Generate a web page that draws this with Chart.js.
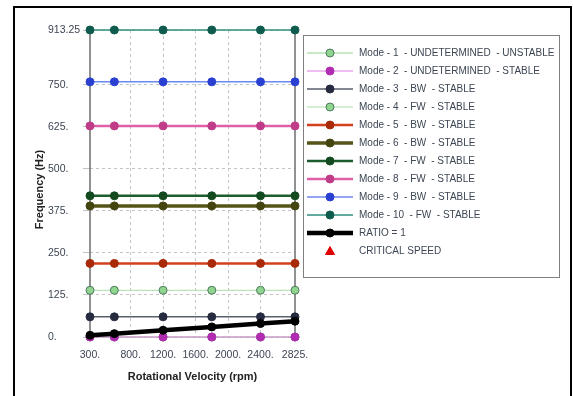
<!DOCTYPE html>
<html>
<head>
<meta charset="utf-8">
<script src="https://cdn.jsdelivr.net/npm/chart.js@4.4.1/dist/chart.umd.min.js"></script>
<style>
  html, body { margin: 0; padding: 0; background: #fff; }
  #wrap { position: relative; width: 573px; height: 396px; }
</style>
</head>
<body>
<div id="wrap"><canvas id="chart" width="573" height="396"></canvas></div>
<script>
// rotational speeds (rpm) where modes were computed
const speeds = [300, 600, 1200, 1800, 2400, 2825];

// frequencies (Hz) per mode
const mode1 = [0, 0, 0, 0, 0, 0];
const mode2 = [0, 0, 0, 0, 0, 0];
const mode3 = [60, 60, 60, 60, 60, 60];
const mode4 = [139, 139, 139, 139, 139, 139];
const mode5 = [219, 219, 219, 219, 219, 219];
const mode6 = [390, 390, 390, 390, 390, 390];
const mode7 = [420, 420, 420, 420, 420, 420];
const mode8 = [628, 628, 628, 628, 628, 628];
const mode9 = [759, 759, 759, 759, 759, 759];
const mode10 = [913.25, 913.25, 913.25, 913.25, 913.25, 913.25];
const ratio1 = [5, 10, 20, 30, 40, 47.08];
const criticalSpeed = [];

const xTicks = [300, 800, 1200, 1600, 2000, 2400, 2825];
const xTickLabels = ['300.', '800.', '1200.', '1600.', '2000.', '2400.', '2825.'];
const yTicks = [0, 125, 250, 375, 500, 625, 750, 913.25];
const yTickLabels = ['0.', '125.', '250.', '375.', '500.', '625.', '750.', '913.25'];

const labelFont = "'Liberation Sans', sans-serif";
const textColor = '#3d4654';

function pts(values) {
  return values.map((v, i) => ({ x: speeds[i], y: v }));
}

function series(label, values, line, marker, width, markerBorder) {
  return {
    label: label,
    data: pts(values),
    borderColor: line,
    borderWidth: width,
    pointRadius: 4,
    pointHoverRadius: 4,
    pointBackgroundColor: marker,
    pointBorderColor: markerBorder || marker,
    pointBorderWidth: 1,
    tension: 0,
    clip: false
  };
}

const datasets = [
  series('Mode - 1  - UNDETERMINED  - UNSTABLE', mode1, '#8fd48f', '#8fd48f', 1, '#4f7a5f'),
  series('Mode - 2  - UNDETERMINED  - STABLE', mode2, '#e07ae0', '#b22cb2', 1),
  series('Mode - 3  - BW  - STABLE', mode3, '#5a5f6e', '#262b40', 1.5),
  series('Mode - 4  - FW  - STABLE', mode4, '#a9dea9', '#8fd48f', 1, '#4f7a5f'),
  series('Mode - 5  - BW  - STABLE', mode5, '#d2401e', '#a82a08', 2.5),
  series('Mode - 6  - BW  - STABLE', mode6, '#55551a', '#44440f', 3.5),
  series('Mode - 7  - FW  - STABLE', mode7, '#1d5c2c', '#134a1f', 2.5),
  series('Mode - 8  - FW  - STABLE', mode8, '#e060a8', '#c03c88', 2.5),
  series('Mode - 9  - BW  - STABLE', mode9, '#6f88f0', '#2a40d0', 1.5),
  series('Mode - 10  - FW  - STABLE', mode10, '#2f8f7e', '#0f5c4e', 1.5),
  series('RATIO = 1', ratio1, '#000000', '#000000', 4.5),
  {
    label: 'CRITICAL SPEED',
    data: criticalSpeed,
    showLine: false,
    pointStyle: 'triangle',
    pointRadius: 4,
    backgroundColor: '#e00000',
    borderColor: '#e00000',
    pointBackgroundColor: '#e00000',
    pointBorderColor: '#e00000'
  }
];
// later series drawn on top
datasets.forEach((ds, i) => { ds.order = datasets.length - i; });

// frame, plot borders, legend box and y title
const decorations = {
  id: 'decorations',
  beforeDraw(chart) {
    const ctx = chart.ctx;
    ctx.save();
    ctx.strokeStyle = '#000';
    ctx.lineWidth = 2;
    ctx.beginPath();
    ctx.moveTo(14, 396);
    ctx.lineTo(14, 7);
    ctx.lineTo(571, 7);
    ctx.lineTo(571, 396);
    ctx.stroke();
    ctx.restore();
  },
  beforeDatasetsDraw(chart) {
    const ctx = chart.ctx;
    const a = chart.chartArea;
    ctx.save();
    ctx.strokeStyle = '#6e6e6e';
    ctx.lineWidth = 1.5;
    ctx.beginPath();
    ctx.moveTo(a.left, a.top);
    ctx.lineTo(a.left, a.bottom);
    ctx.moveTo(a.right, a.top);
    ctx.lineTo(a.right, a.bottom);
    ctx.stroke();
    ctx.restore();
  },
  afterDraw(chart) {
    const ctx = chart.ctx;
    const a = chart.chartArea;
    ctx.save();
    // y axis title
    ctx.fillStyle = '#222';
    ctx.font = "bold 11px " + labelFont;
    ctx.textAlign = 'center';
    ctx.textBaseline = 'middle';
    ctx.translate(40, (a.top + a.bottom) / 2 + 6);
    ctx.rotate(-Math.PI / 2);
    ctx.fillText('Frequency (Hz)', 0, 0);
    ctx.restore();

    // legend
    ctx.save();
    ctx.strokeStyle = '#808080';
    ctx.lineWidth = 1;
    ctx.strokeRect(303.5, 35.5, 256, 242);
    ctx.font = "10px " + labelFont;
    ctx.textBaseline = 'middle';
    ctx.textAlign = 'left';
    chart.data.datasets.forEach((ds, i) => {
      const y = 53 + i * 18;
      if (ds.showLine !== false) {
        ctx.strokeStyle = ds.borderColor;
        ctx.lineWidth = ds.borderWidth;
        ctx.beginPath();
        ctx.moveTo(307, y);
        ctx.lineTo(353, y);
        ctx.stroke();
      }
      ctx.fillStyle = ds.pointBackgroundColor;
      ctx.strokeStyle = ds.pointBorderColor;
      ctx.lineWidth = 1;
      ctx.beginPath();
      if (ds.pointStyle === 'triangle') {
        ctx.moveTo(330, y - 4.5);
        ctx.lineTo(334.5, y + 3.5);
        ctx.lineTo(325.5, y + 3.5);
        ctx.closePath();
      } else {
        ctx.arc(330, y, 4, 0, Math.PI * 2);
      }
      ctx.fill();
      ctx.stroke();
      ctx.fillStyle = textColor;
      ctx.fillText(ds.label, 359, y);
    });
    ctx.restore();
  }
};

new Chart(document.getElementById('chart'), {
  type: 'line',
  data: { datasets: datasets },
  plugins: [decorations],
  options: {
    responsive: false,
    animation: false,
    events: [],
    layout: { padding: { left: 48, right: 278, top: 30, bottom: 0 } },
    plugins: {
      legend: { display: false },
      tooltip: { enabled: false }
    },
    scales: {
      x: {
        type: 'linear',
        min: 300,
        max: 2825,
        afterBuildTicks: (scale) => { scale.ticks = xTicks.map(v => ({ value: v })); },
        afterFit: (scale) => { scale.height = 59; },
        border: { display: false, dash: [3, 3] },
        grid: {
          drawTicks: false,
          color: (c) => (c.index === 0 || c.index === xTicks.length - 1) ? 'rgba(0,0,0,0)' : '#c4c4c4',
          lineWidth: 1
        },
        ticks: {
          autoSkip: false,
          maxRotation: 0,
          padding: 12,
          color: textColor,
          font: { family: labelFont, size: 10.5 },
          callback: (v, i) => xTickLabels[i]
        },
        title: {
          display: true,
          text: 'Rotational Velocity (rpm)',
          color: '#222',
          font: { family: labelFont, size: 11, weight: 'bold' },
          padding: { top: 0, bottom: 12 }
        }
      },
      y: {
        type: 'linear',
        min: 0,
        max: 913.25,
        afterBuildTicks: (scale) => { scale.ticks = yTicks.map(v => ({ value: v })); },
        afterFit: (scale) => { scale.width = 42; },
        border: { display: false, dash: [3, 3] },
        grid: {
          drawTicks: true,
          tickLength: 7,
          color: '#c4c4c4',
          lineWidth: 1
        },
        ticks: {
          autoSkip: false,
          crossAlign: 'far',
          padding: 4,
          color: textColor,
          font: { family: labelFont, size: 10.5 },
          callback: (v, i) => yTickLabels[i]
        }
      }
    }
  }
});
</script>
</body>
</html>
